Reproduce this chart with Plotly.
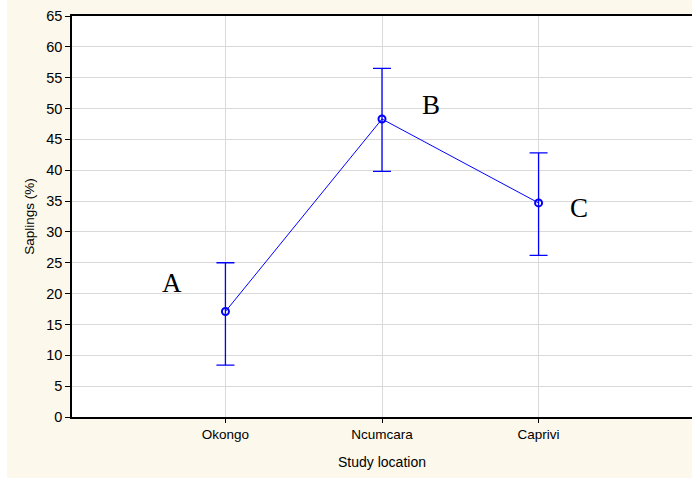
import plotly.graph_objects as go

categories = ["Okongo", "Ncumcara", "Caprivi"]
positions = [1, 2, 3]
means = [17.1, 48.3, 34.7]
upper = [25.0, 56.5, 42.8]
lower = [8.4, 39.8, 26.2]
group_labels = ["A", "B", "C"]
label_x = [0.66, 2.31, 3.26]
label_y = [21.7, 50.6, 33.9]
y_ticks = list(range(0, 66, 5))

err_plus = [u - m for u, m in zip(upper, means)]
err_minus = [m - l for m, l in zip(means, lower)]

blue = "#0000FF"
fig = go.Figure()
fig.add_trace(go.Scatter(
    x=positions, y=means, mode="lines+markers",
    line=dict(color=blue, width=1),
    marker=dict(symbol="circle-open", size=7, color=blue, line=dict(width=2, color=blue)),
    error_y=dict(type="data", symmetric=False, array=err_plus, arrayminus=err_minus,
                 color=blue, thickness=1.3, width=9),
    showlegend=False,
))

for lx, ly, t in zip(label_x, label_y, group_labels):
    fig.add_annotation(x=lx, y=ly, text=t, showarrow=False,
                       font=dict(family="Liberation Serif, Times New Roman, serif", size=27, color="black"))

# white strip at the far left edge of the image
fig.add_shape(type="rect", xref="paper", yref="paper", x0=-0.13, x1=-0.1048, y0=-0.2, y1=1.1,
              fillcolor="white", line=dict(width=0), layer="below")

fig.update_layout(
    width=692, height=478,
    margin=dict(l=72, r=0, t=16, b=61),
    paper_bgcolor="#FDF8EC",
    plot_bgcolor="white",
    font=dict(family="Liberation Sans, Arial, sans-serif", size=12, color="black"),
    xaxis=dict(
        range=[0.02, 3.98], tickvals=positions, ticktext=categories,
        showgrid=True, gridcolor="#D9D9D9", gridwidth=1,
        showline=True, linecolor="black", linewidth=1.5, mirror=True,
        ticks="outside", ticklen=4, tickcolor="black",
        zeroline=False,
        tickfont=dict(size=13.5),
        title=dict(text="Study location", font=dict(size=14), standoff=16),
    ),
    yaxis=dict(
        range=[0, 65], tickvals=y_ticks,
        showgrid=True, gridcolor="#D9D9D9", gridwidth=1,
        showline=True, linecolor="black", linewidth=1.5,
        ticks="outside", ticklen=5, tickcolor="black",
        zeroline=False,
        tickfont=dict(size=14.5),
        title=dict(text="Saplings (%)", font=dict(size=13.5), standoff=8),
    ),
)

fig.write_html("out.html")
